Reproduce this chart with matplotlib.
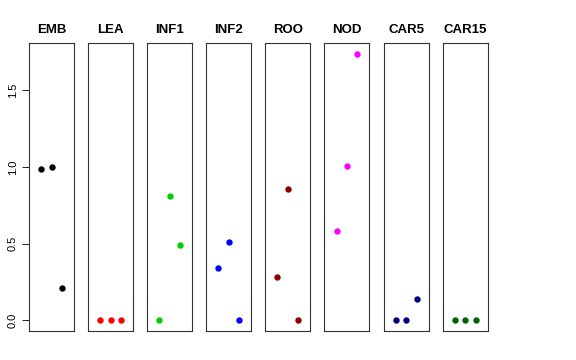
import numpy as np
import matplotlib
matplotlib.use("Agg")
import matplotlib.pyplot as plt

plt.rcParams['font.family'] = ['Liberation Sans', 'DejaVu Sans']

tissues = ["EMB", "LEA", "INF1", "INF2", "ROO", "NOD", "CAR5", "CAR15"]
values = [
    [0.99, 1.00, 0.21],
    [0.0, 0.0, 0.0],
    [0.0, 0.81, 0.49],
    [0.34, 0.51, 0.0],
    [0.28, 0.86, 0.0],
    [0.58, 1.01, 1.74],
    [0.0, 0.0, 0.14],
    [0.0, 0.0, 0.0],
]
colors = ["black", "red", "#00CD00", "blue", "#8B0000", "magenta", "#000080", "#006400"]
reps = [1, 2, 3]
yticks = [0.0, 0.5, 1.0, 1.5]

fig = plt.figure(figsize=(5.76, 3.6), dpi=100)

ymax = max(max(v) for v in values)
ypad = ymax * 0.04
left0 = 29 / 576
pw = 45 / 576
step = 59.1 / 576
bottom = 1 - 331 / 360
height = (331 - 43) / 360

for i, (name, vals, col) in enumerate(zip(tissues, values, colors)):
    ax = fig.add_axes([left0 + i * step, bottom, pw, height])
    ax.plot(reps, vals, 'o', color=col, markersize=4.6, markeredgewidth=0)
    ax.set_xlim(-0.16, 4.16)
    ax.set_ylim(-ypad, ymax + ypad)
    ax.set_xticks([])
    for s in ax.spines.values():
        s.set_linewidth(0.8)
        s.set_color("#333333")
    ax.set_title(name, fontsize=9.5, fontweight='bold', pad=7)
    if i == 0:
        ax.set_yticks(yticks)
        ax.set_yticklabels(["0.0", "0.5", "1.0", "1.5"], rotation=90, va='center', fontsize=8)
        ax.tick_params(axis='y', length=5, width=0.6, pad=3)
    else:
        ax.set_yticks([])

fig.savefig("out.png", dpi=100)
